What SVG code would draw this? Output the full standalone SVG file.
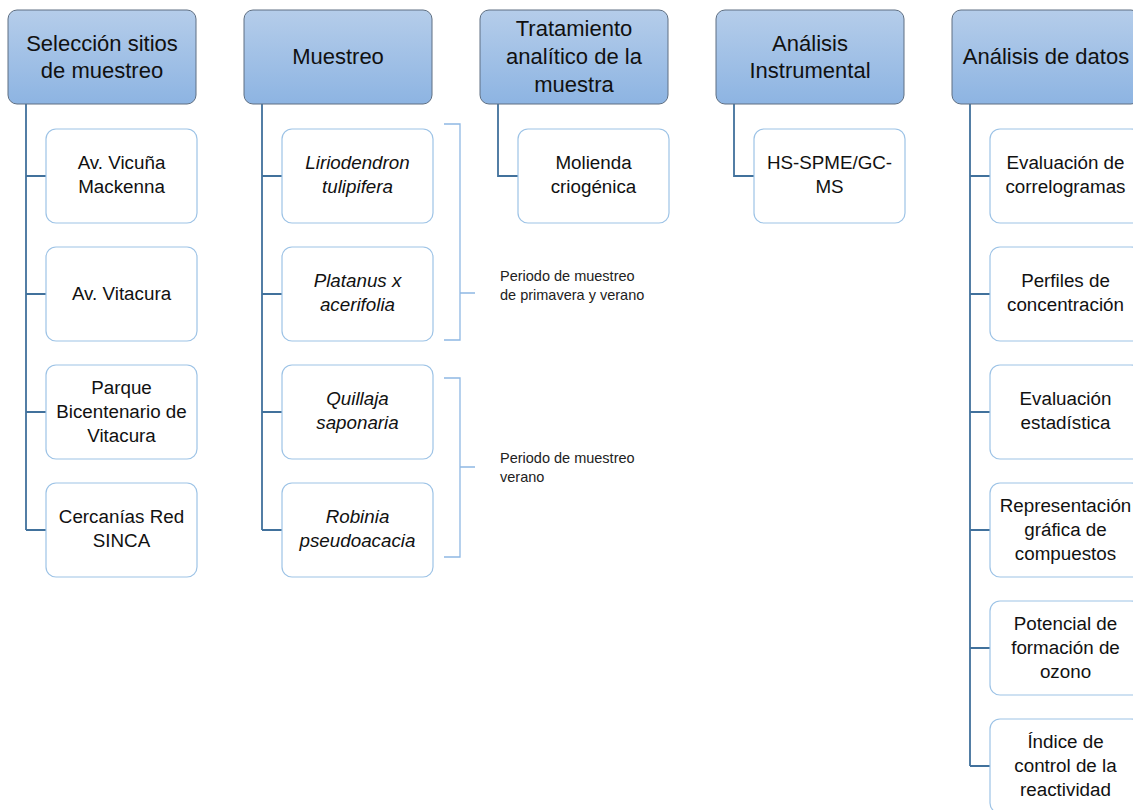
<svg xmlns="http://www.w3.org/2000/svg" width="1133" height="810" viewBox="0 0 1133 810">
<defs>
<linearGradient id="hg" x1="0" y1="0" x2="0" y2="1">
<stop offset="0" stop-color="#b5cdea"/>
<stop offset="1" stop-color="#8db4e2"/>
</linearGradient>
</defs>
<style>
.h rect{fill:url(#hg);stroke:#5f6f82;stroke-width:1}
.h text{font-family:"Liberation Sans",Arial,sans-serif;font-size:22px;fill:#111;text-anchor:middle}
.c rect{fill:#fff;stroke:#9dc3e6;stroke-width:1.2}
.c text{font-family:"Liberation Sans",Arial,sans-serif;font-size:18.8px;fill:#111;text-anchor:middle}
.c text.i{font-style:italic}
.con path{fill:none;stroke:#41719c;stroke-width:1.8}
.br path{fill:none;stroke:#8fb8e4;stroke-width:1.3}
.note{font-family:"Liberation Sans",Arial,sans-serif;font-size:14.5px;fill:#222}
</style>
<rect width="1133" height="810" fill="#fff"/>
<g class="con">
<path d="M26,104V530M26,176H46M26,294H46M26,412H46M26,530H46"/>
<path d="M262,104V530M262,176H282M262,294H282M262,412H282M262,530H282"/>
<path d="M498,104V176H518"/>
<path d="M734,104V176H754"/>
<path d="M970,104V766M970,176H990M970,294H990M970,412H990M970,530H990M970,648H990M970,766H990"/>
</g>
<g class="br">
<path d="M444,124H460V340H444M460,293H475"/>
<path d="M444,378H460V557H444M460,467H475"/>
</g>
<text class="note" x="500" y="281">Periodo de muestreo</text>
<text class="note" x="500" y="300">de primavera y verano</text>
<text class="note" x="500" y="463">Periodo de muestreo</text>
<text class="note" x="500" y="482">verano</text>
<g id="h1" class="h"><rect x="8" y="10" width="188" height="94" rx="9"/><text x="102" y="51">Selección sitios</text><text x="102" y="78">de muestreo</text></g>
<g id="h2" class="h"><rect x="244" y="10" width="188" height="94" rx="9"/><text x="338" y="64">Muestreo</text></g>
<g id="h3" class="h"><rect x="480" y="10" width="188" height="94" rx="9"/><text x="574" y="36">Tratamiento</text><text x="574" y="64">analítico de la</text><text x="574" y="92">muestra</text></g>
<g id="h4" class="h"><rect x="716" y="10" width="188" height="94" rx="9"/><text x="810" y="51">Análisis</text><text x="810" y="78">Instrumental</text></g>
<g id="h5" class="h"><rect x="952" y="10" width="188" height="94" rx="9"/><text x="1046" y="64">Análisis de datos</text></g>
<g id="c1" class="c"><rect x="46" y="129" width="151" height="94" rx="10"/><text x="121.5" y="169">Av. Vicuña</text><text x="121.5" y="193">Mackenna</text></g>
<g id="c2" class="c"><rect x="46" y="247" width="151" height="94" rx="10"/><text x="121.5" y="300">Av. Vitacura</text></g>
<g id="c3" class="c"><rect x="46" y="365" width="151" height="94" rx="10"/><text x="121.5" y="394">Parque</text><text x="121.5" y="418">Bicentenario de</text><text x="121.5" y="442">Vitacura</text></g>
<g id="c4" class="c"><rect x="46" y="483" width="151" height="94" rx="10"/><text x="121.5" y="523">Cercanías Red</text><text x="121.5" y="547">SINCA</text></g>
<g id="c5" class="c"><rect x="282" y="129" width="151" height="94" rx="10"/><text class="i" x="357.5" y="169">Liriodendron</text><text class="i" x="357.5" y="193">tulipifera</text></g>
<g id="c6" class="c"><rect x="282" y="247" width="151" height="94" rx="10"/><text class="i" x="357.5" y="287">Platanus x</text><text class="i" x="357.5" y="311">acerifolia</text></g>
<g id="c7" class="c"><rect x="282" y="365" width="151" height="94" rx="10"/><text class="i" x="357.5" y="405">Quillaja</text><text class="i" x="357.5" y="429">saponaria</text></g>
<g id="c8" class="c"><rect x="282" y="483" width="151" height="94" rx="10"/><text class="i" x="357.5" y="523">Robinia</text><text class="i" x="357.5" y="547">pseudoacacia</text></g>
<g id="c9" class="c"><rect x="518" y="129" width="151" height="94" rx="10"/><text x="593.5" y="169">Molienda</text><text x="593.5" y="193">criogénica</text></g>
<g id="c10" class="c"><rect x="754" y="129" width="151" height="94" rx="10"/><text x="829.5" y="169">HS-SPME/GC-</text><text x="829.5" y="193">MS</text></g>
<g id="c11" class="c"><rect x="990" y="129" width="151" height="94" rx="10"/><text x="1065.5" y="169">Evaluación de</text><text x="1065.5" y="193">correlogramas</text></g>
<g id="c12" class="c"><rect x="990" y="247" width="151" height="94" rx="10"/><text x="1065.5" y="287">Perfiles de</text><text x="1065.5" y="311">concentración</text></g>
<g id="c13" class="c"><rect x="990" y="365" width="151" height="94" rx="10"/><text x="1065.5" y="405">Evaluación</text><text x="1065.5" y="429">estadística</text></g>
<g id="c14" class="c"><rect x="990" y="483" width="151" height="94" rx="10"/><text x="1065.5" y="512">Representación</text><text x="1065.5" y="536">gráfica de</text><text x="1065.5" y="560">compuestos</text></g>
<g id="c15" class="c"><rect x="990" y="601" width="151" height="94" rx="10"/><text x="1065.5" y="630">Potencial de</text><text x="1065.5" y="654">formación de</text><text x="1065.5" y="678">ozono</text></g>
<g id="c16" class="c"><rect x="990" y="719" width="151" height="94" rx="10"/><text x="1065.5" y="748">Índice de</text><text x="1065.5" y="772">control de la</text><text x="1065.5" y="796">reactividad</text></g>
</svg>
